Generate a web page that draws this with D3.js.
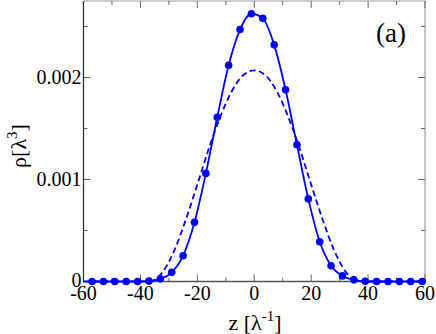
<!DOCTYPE html>
<html>
<head>
<meta charset="utf-8">
<script src="https://cdn.jsdelivr.net/npm/d3@7"></script>
</head>
<body style="margin:0">
<div id="chart"></div>
<script>
var width = 436,
    height = 334;

var margin = { left: 83.5, right: 11, top: 1, bottom: 52.5 };

var color = "#0000ff";
var font = "Liberation Serif";

// simulation points (solid line with dots)
var z_dots = [-57, -53, -49, -45, -41, -37, -33, -29, -25, -21, -17, -13, -9, -5, -1,
              3, 7, 11, 15, 19, 23, 27, 31, 35, 39, 43, 47, 51, 55, 59];
var rho_dots = [0, 0, 0, 0, 0, 0.000004, 0.000026, 0.00009, 0.000253, 0.00058, 0.00106, 0.00161, 0.00212, 0.00247, 0.002625,
                0.00258, 0.00232, 0.00188, 0.00134, 0.00081, 0.00039, 0.000155, 0.000055, 0.000016, 0.000002, 0, 0, 0, 0, 0];

// approximation (dashed line)
var z_dash = [-60, -40, -36, -32, -28, -24, -20, -16, -12, -8, -4, 0,
              4, 8, 12, 16, 20, 24, 28, 32, 36, 40, 60];
var rho_dash = [0, 0, 0.000006, 0.0001, 0.00031, 0.00061, 0.00095, 0.0013, 0.00161, 0.00186, 0.00202, 0.00207,
                0.00202, 0.00186, 0.00161, 0.0013, 0.00095, 0.00061, 0.00031, 0.0001, 0.000006, 0, 0];

var x_major = [-60, -40, -20, 0, 20, 40, 60];
var x_minor = [-50, -30, -10, 10, 30, 50];
var y_major = [0, 0.001, 0.002];
var y_labels = ["0", "0.001", "0.002"];
var y_minor = [0.0005, 0.0015, 0.0025];

var svg = d3.select("#chart").append("svg")
    .attr("width", width)
    .attr("height", height);

var x = d3.scaleLinear().domain([-60, 60]).range([margin.left, width - margin.right]);
var y = d3.scaleLinear().domain([0, 0.00275]).range([height - margin.bottom, margin.top]);

var x0 = x.range()[0], x1 = x.range()[1];
var y0 = y.range()[0], y1 = y.range()[1];

// frame
svg.append("line").attr("x1", x0).attr("x2", x1).attr("y1", y1).attr("y2", y1).style("stroke", "#999").style("stroke-width", 1.2);
svg.append("line").attr("x1", x1).attr("x2", x1).attr("y1", y0).attr("y2", y1).style("stroke", "#999").style("stroke-width", 1.2);

// ticks, all pointing inward
var tick = function(g, vals, len, axis) {
  vals.forEach(function(v){
    if (axis == "x") {
      g.append("line").attr("x1", x(v)).attr("x2", x(v)).attr("y1", y0).attr("y2", y0 - len);
      g.append("line").attr("x1", x(v)).attr("x2", x(v)).attr("y1", y1).attr("y2", y1 + len);
    } else {
      g.append("line").attr("x1", x0).attr("x2", x0 + len).attr("y1", y(v)).attr("y2", y(v));
      g.append("line").attr("x1", x1).attr("x2", x1 - len).attr("y1", y(v)).attr("y2", y(v));
    }
  });
}
var ticks = svg.append("g").style("stroke", "#666").style("stroke-width", 1);
tick(ticks, x_major, 7, "x");
tick(ticks, x_minor, 4, "x");
tick(ticks, y_major, 7, "y");
tick(ticks, y_minor, 4, "y");

svg.append("line").attr("x1", x0).attr("x2", x1).attr("y1", y0).attr("y2", y0).style("stroke", "#555").style("stroke-width", 1.3);
svg.append("line").attr("x1", x0).attr("x2", x0).attr("y1", y0).attr("y2", y1).style("stroke", "#333").style("stroke-width", 1.3);

// tick labels
svg.selectAll("text.xt").data(x_major).enter().append("text")
    .attr("class", "xt")
    .attr("font-family", font)
    .attr("font-size", 20)
    .attr("x", function(d){ return x(d); })
    .attr("y", y0 + 18)
    .attr("text-anchor", "middle")
    .text(function(d){ return d; });

svg.selectAll("text.yt").data(y_major).enter().append("text")
    .attr("class", "yt")
    .attr("font-family", font)
    .attr("font-size", 20)
    .attr("x", x0 - 2)
    .attr("y", function(d, i){ return y(d) + (i == 0 ? 5 : 6.5); })
    .attr("text-anchor", "end")
    .text(function(d, i){ return y_labels[i]; });

// axis titles
var xl = svg.append("text")
    .attr("font-family", font)
    .attr("font-size", 22)
    .attr("x", 255)
    .attr("y", 330)
    .attr("text-anchor", "middle");
xl.append("tspan").text("z [\u03bb");
xl.append("tspan").attr("dy", -9).attr("font-size", 15).text("-1");
xl.append("tspan").attr("dy", 9).text("]");

var yl = svg.append("text")
    .attr("font-family", font)
    .attr("font-size", 22)
    .attr("transform", "translate(26,146) rotate(-90)")
    .attr("text-anchor", "middle");
yl.append("tspan").text("\u03c1[\u03bb");
yl.append("tspan").attr("dy", -9).attr("font-size", 15).text("3");
yl.append("tspan").attr("dy", 9).text("]");

svg.append("text")
    .attr("font-family", font)
    .attr("font-size", 27)
    .attr("x", 391)
    .attr("y", 42)
    .attr("text-anchor", "middle")
    .text("(a)");

// curves
var line = d3.line()
    .x(function(d){ return x(d[0]); })
    .y(function(d){ return y(d[1]); })
    .curve(d3.curveMonotoneX);

svg.append("path")
    .datum(d3.zip(z_dash, rho_dash))
    .attr("d", line)
    .style("fill", "none")
    .style("stroke", color)
    .style("stroke-width", 1.8)
    .style("stroke-dasharray", "6,3.5");

svg.append("path")
    .datum(d3.zip(z_dots, rho_dots))
    .attr("d", line)
    .style("fill", "none")
    .style("stroke", color)
    .style("stroke-width", 1.8);

svg.selectAll("circle.dot").data(d3.zip(z_dots, rho_dots)).enter().append("circle")
    .attr("class", "dot")
    .attr("cx", function(d){ return x(d[0]); })
    .attr("cy", function(d){ return y(d[1]); })
    .attr("r", 3.8)
    .style("fill", color);
</script>
</body>
</html>
